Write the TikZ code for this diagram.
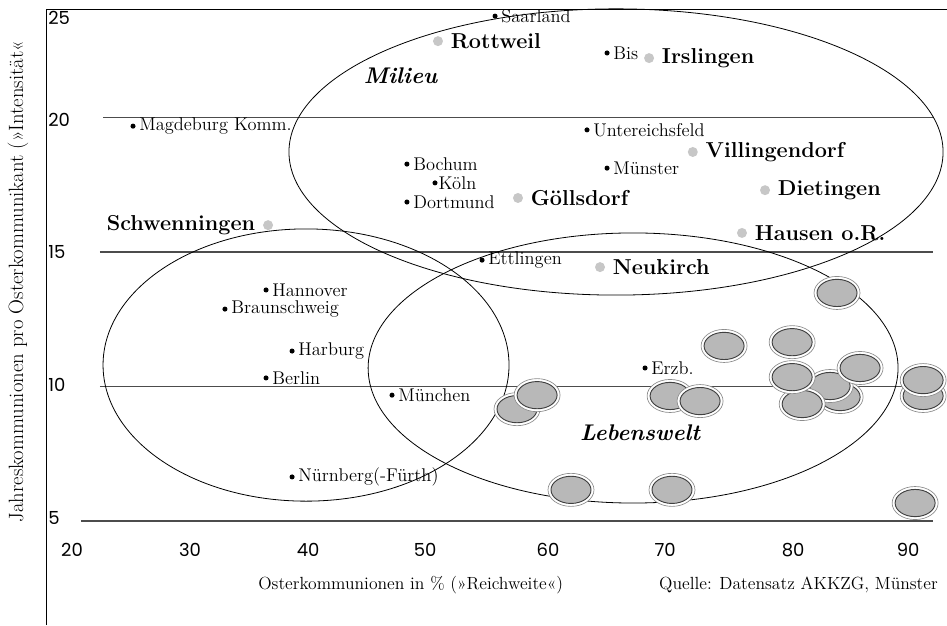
\documentclass[tikz,border=0pt]{standalone}
\usepackage{fontspec}
\newfontfamily\ticksf{Poppins}
\begin{document}
\begin{tikzpicture}[x=8.955pt, y=20.175pt,
  ort/.style={circle, fill=black, inner sep=0pt, minimum size=3.8pt},
  ortname/.style={font=\fontsize{13.8}{16}\selectfont, inner sep=2.5pt},
  gemeinde/.style={circle, fill=black!22, inner sep=0pt, minimum size=7.5pt},
  gname/.style={font=\fontsize{16.2}{19}\selectfont\bfseries, inner sep=2.5pt, label distance=3pt},
  gitter/.style={black!70, line width=1pt},
  ring/.style={line width=0.6pt},
  feld/.style={font=\fontsize{17}{20}\selectfont\bfseries\itshape},
  skala/.style={font=\ticksf\fontsize{13.5}{16}\selectfont, inner sep=0pt},
  achse/.style={font=\fontsize{13.2}{16}\selectfont, inner sep=0pt},
  disc/.pic={
    \draw[black!45, fill=white, line width=0.5pt] (0,0) ellipse [x radius=17.25pt, y radius=12.4pt];
    \draw[black!75, fill=black!28, line width=0.7pt] (0,0) ellipse [x radius=15pt, y radius=10.2pt];
  }]
  \useasboundingbox (13.97,1.134) rectangle (93.28,24.37);
  \draw[line width=0.7pt] (17.82,1.134) -- (17.82,24.03) -- (93.28,24.03);
  \foreach \y/\xa in {20/22.6, 15/22.34, 10/22.34, 5/20.75}
    \draw[gitter] (\xa,\y) -- (92.1,\y);
  \foreach \y/\t in {23.7/25, 19.93/20, 15/15, 10.06/10, 5.11/5}
    \node[skala, anchor=west] (y\t) at (17.99,\y) {\t};
  \foreach \x/\t in {20/20, 29.88/30, 39.77/40, 49.57/50, 59.87/60, 69.67/70, 80.39/80, 90.02/90}
    \node[skala] (x\t) at (\x,3.92) {\t};
  \node[achse, anchor=west] (xtitel) at (35.58,2.62) {Osterkommunionen in \% (»Reichweite«)};
  \node[achse, anchor=east] (quelle) at (92.53,2.62) {Quelle: Datensatz AKKZG, Münster};
  \node[rotate=90, font=\fontsize{15.5}{18}\selectfont, inner sep=0pt] (ytitel) at (15.48,13.9)
    {Jahreskommunionen pro Osterkommunikant (»Intensität«};

  \draw[ring] (65.56,18.72) ellipse (27.39 and 5.32);
  \draw[ring] (39.6,10.80) ellipse (17.0 and 5.06);
  \draw[ring] (66.99,10.69) ellipse (22.19 and 5.02);
  \node[feld] (milieu) at (47.51,21.54) {Milieu};
  \node[feld] (lebenswelt) at (67.57,8.27) {Lebenswelt};

  \foreach \x/\y in {57.27/9.16, 58.95/9.68, 61.79/6.16, 70.25/6.16, 70.09/9.65, 72.60/9.46,
      74.61/11.51, 80.31/11.65, 84.33/9.61, 83.49/10.02, 81.15/9.35, 80.31/10.35,
      84.07/13.48, 86.0/10.69, 91.28/9.65, 91.28/10.24, 90.61/5.67}
    \pic at (\x,\y) {disc};

  \node[ort, label={[ortname]right:Saarland}] (saarland) at (55.43,23.77) {};
  \node[ort, label={[ortname]right:Bis}] (bis) at (64.81,22.40) {};
  \node[ort, label={[ortname]right:Magdeburg Komm.}] (magdeburg) at (25.11,19.68) {};
  \node[ort, label={[ortname]right:Untereichsfeld}] (untereichsfeld) at (63.13,19.54) {};
  \node[ort, label={[ortname]right:Bochum}] (bochum) at (48.05,18.27) {};
  \node[ort, label={[ortname, label distance=-2pt]right:Köln}] (koeln) at (50.40,17.57) {};
  \node[ort, label={[ortname]right:Dortmund}] (dortmund) at (48.05,16.86) {};
  \node[ort, label={[ortname]right:Münster}] (muenster) at (64.81,18.12) {};
  \node[ort, label={[ortname]right:Ettlingen}] (ettlingen) at (54.34,14.70) {};
  \node[ort, label={[ortname]right:Hannover}] (hannover) at (36.25,13.59) {};
  \node[ort, label={[ortname]right:Braunschweig}] (braunschweig) at (32.81,12.88) {};
  \node[ort, label={[ortname]right:Harburg}] (harburg) at (38.43,11.32) {};
  \node[ort, label={[ortname]right:Berlin}] (berlin) at (36.25,10.32) {};
  \node[ort, label={[ortname]right:München}] (muenchen) at (46.80,9.68) {};
  \node[ort, label={[ortname]right:Erzb.}] (erzb) at (67.99,10.69) {};
  \node[ort, label={[ortname]right:Nürnberg(-Fürth)}] (nuernberg) at (38.43,6.64) {};

  \node[gemeinde, label={[gname]right:Rottweil}] (rottweil) at (50.65,22.84) {};
  \node[gemeinde, label={[gname]right:Irslingen}] (irslingen) at (68.33,22.21) {};
  \node[gemeinde, label={[gname]right:Villingendorf}] (villingendorf) at (71.99,18.72) {};
  \node[gemeinde, label={[gname]right:Dietingen}] (dietingen) at (78.04,17.30) {};
  \node[gemeinde, label={[gname]right:Hausen o.R.}] (hausen) at (76.11,15.71) {};
  \node[gemeinde, label={[gname]right:Göllsdorf}] (goellsdorf) at (57.35,17.01) {};
  \node[gemeinde, label={[gname]right:Neukirch}] (neukirch) at (64.22,14.44) {};
  \node[gemeinde, label={[gname]left:Schwenningen}] (schwenningen) at (36.42,16.00) {};
\end{tikzpicture}
\end{document}
